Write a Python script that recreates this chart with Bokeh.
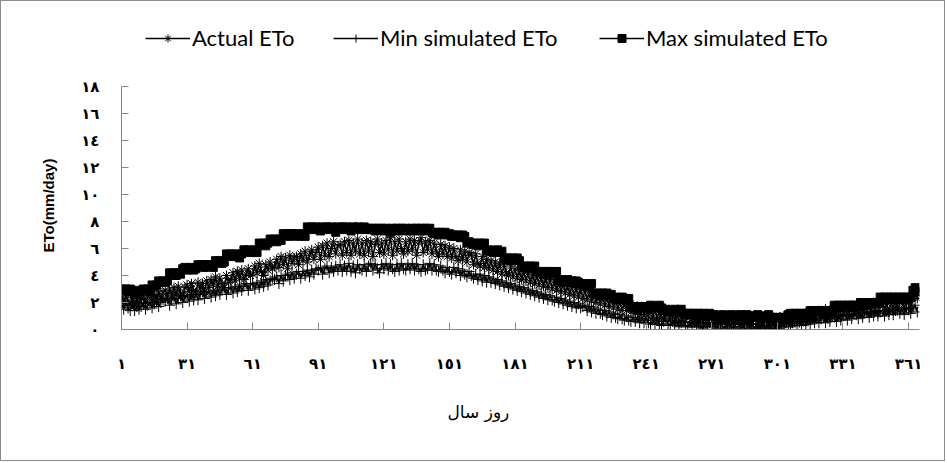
from bokeh.plotting import figure
from bokeh.models import FixedTicker, Legend, LegendItem, Range1d, Title
from bokeh.embed import file_html
from bokeh.resources import INLINE

days = list(range(1, 366))

series_names = ["Actual ETo", "Min simulated ETo", "Max simulated ETo"]

actual_eto = [
    2.5, 2.0, 2.6, 2.1, 1.8, 2.4, 1.8, 2.2, 1.9, 2.3,
    2.5, 2.0, 2.4, 2.7, 2.1, 2.6, 2.2, 2.8, 2.3, 2.7,
    2.9, 2.4, 3.0, 2.5, 3.1, 2.6, 3.2, 2.7, 2.5, 3.1,
    3.3, 2.8, 3.4, 2.9, 2.7, 3.5, 3.0, 3.4, 2.8, 3.6,
    3.1, 3.7, 3.3, 3.9, 3.2, 3.8, 3.4, 3.1, 4.0, 3.5,
    3.7, 4.2, 3.6, 4.3, 3.8, 4.4, 3.7, 4.1, 4.5, 4.0,
    4.1, 4.7, 4.2, 4.9, 4.3, 4.0, 4.8, 4.4, 5.0, 4.5,
    4.7, 5.2, 4.6, 5.4, 4.8, 5.3, 4.5, 5.5, 4.9, 5.3,
    5.4, 4.8, 5.6, 5.1, 5.8, 5.0, 5.5, 5.9, 5.2, 5.7,
    6.1, 5.2, 6.2, 5.5, 6.4, 5.4, 6.0, 6.5, 5.6, 6.2,
    6.3, 5.5, 6.5, 5.7, 6.6, 5.5, 6.4, 5.8, 6.7, 5.6,
    6.4, 5.5, 6.6, 5.8, 6.5, 5.4, 6.3, 6.7, 5.7, 6.4,
    5.6, 6.6, 5.9, 6.8, 5.5, 6.5, 5.8, 6.7, 6.0, 5.6,
    6.5, 5.8, 6.7, 5.9, 6.6, 5.5, 6.4, 6.8, 5.7, 6.5,
    5.9, 6.6, 5.6, 6.4, 5.8, 5.4, 6.3, 5.6, 6.2, 5.4,
    6.1, 5.3, 6.0, 5.4, 5.1, 5.9, 5.2, 5.8, 5.0, 5.7,
    5.5, 4.8, 5.6, 4.9, 4.7, 5.4, 4.6, 5.2, 4.5, 5.1,
    4.4, 5.0, 4.3, 4.9, 4.1, 4.8, 4.2, 4.0, 4.7, 3.9,
    4.5, 3.8, 4.4, 3.7, 4.3, 3.6, 4.2, 3.5, 4.1, 3.4,
    4.0, 3.3, 3.9, 3.2, 3.8, 3.1, 3.7, 3.0, 3.6, 2.9,
    3.5, 2.8, 3.4, 2.7, 3.3, 2.6, 3.2, 2.5, 3.1, 2.4,
    3.0, 2.3, 2.9, 2.2, 2.8, 2.1, 2.7, 2.0, 2.6, 1.9,
    2.5, 1.8, 2.4, 1.7, 2.3, 1.6, 2.2, 1.5, 2.1, 1.4,
    2.0, 1.4, 1.9, 1.3, 1.8, 1.2, 1.7, 1.1, 1.7, 1.0,
    1.6, 1.0, 1.5, 0.9, 1.5, 0.8, 1.4, 0.9, 0.8, 1.3,
    1.2, 0.7, 1.3, 0.6, 1.2, 0.7, 0.6, 1.2, 0.6, 1.1,
    1.0, 0.5, 1.1, 0.6, 0.5, 1.0, 0.4, 1.0, 0.5, 1.0,
    0.9, 0.4, 1.0, 0.5, 0.4, 1.0, 0.5, 0.4, 0.9, 1.0,
    0.4, 0.9, 1.0, 0.4, 0.9, 0.4, 1.0, 0.5, 0.4, 0.9,
    0.9, 0.4, 0.9, 0.3, 0.8, 0.9, 0.3, 0.8, 0.9, 0.3,
    0.8, 0.9, 0.4, 1.0, 0.5, 0.4, 1.0, 0.5, 1.1, 0.6,
    0.5, 1.1, 0.6, 1.2, 0.6, 0.7, 1.3, 0.7, 1.2, 1.4,
    0.8, 1.3, 1.5, 0.8, 1.4, 0.9, 1.5, 1.0, 1.6, 1.0,
    1.1, 1.7, 1.0, 1.6, 1.8, 1.1, 1.7, 1.2, 1.9, 1.3,
    1.8, 1.2, 1.9, 1.3, 2.0, 1.4, 1.2, 1.9, 2.1, 1.4,
    2.0, 1.3, 2.1, 1.5, 2.2, 1.4, 2.0, 2.3, 1.5, 2.1,
    2.2, 1.6, 2.4, 2.8, 2.3,
]

min_sim_eto = [
    1.9, 1.5, 2.0, 1.6, 1.4, 1.9, 1.4, 1.7, 1.5, 1.7,
    1.9, 1.5, 1.8, 2.0, 1.6, 1.9, 2.1, 1.7, 2.0, 2.2,
    2.1, 2.3, 1.8, 2.2, 2.4, 1.9, 2.3, 2.5, 2.0, 2.4,
    2.5, 2.1, 2.6, 2.2, 2.7, 2.2, 2.6, 2.8, 2.3, 2.7,
    2.8, 2.4, 2.9, 2.5, 3.0, 2.6, 2.9, 3.1, 2.6, 3.0,
    3.1, 2.7, 3.2, 2.8, 3.3, 2.9, 3.2, 3.4, 2.9, 3.3,
    3.4, 3.0, 3.5, 3.1, 3.6, 3.2, 3.7, 3.3, 3.6, 3.8,
    3.7, 3.9, 3.4, 4.0, 3.6, 4.0, 4.1, 3.7, 4.2, 3.8,
    4.1, 4.3, 3.8, 4.3, 4.0, 4.4, 3.9, 4.4, 4.1, 4.5,
    4.4, 4.6, 4.1, 4.5, 4.7, 4.2, 4.6, 4.3, 4.7, 4.4,
    4.8, 4.3, 4.7, 4.4, 4.9, 4.3, 4.7, 4.2, 4.8, 4.5,
    4.4, 4.8, 4.3, 4.7, 4.9, 4.4, 4.8, 4.5, 4.2, 4.8,
    4.5, 4.9, 4.4, 4.8, 4.5, 4.3, 4.8, 4.4, 4.9, 4.5,
    4.4, 4.8, 4.5, 4.9, 4.4, 4.8, 4.5, 4.3, 4.8, 4.4,
    4.5, 4.9, 4.4, 4.8, 4.4, 4.3, 4.7, 4.4, 4.2, 4.6,
    4.3, 4.1, 4.6, 4.2, 4.5, 4.0, 4.4, 4.1, 3.9, 4.3,
    4.0, 3.8, 4.1, 3.7, 4.1, 3.6, 4.0, 3.5, 3.9, 3.5,
    3.8, 3.4, 3.7, 3.3, 3.6, 3.2, 3.5, 3.1, 3.4, 3.0,
    3.3, 2.9, 3.2, 2.8, 3.1, 2.7, 3.0, 2.6, 2.9, 2.5,
    2.8, 2.4, 2.7, 2.3, 2.6, 2.2, 2.5, 2.2, 2.1, 2.4,
    2.0, 2.3, 1.9, 2.2, 1.8, 2.1, 1.7, 2.0, 1.6, 1.9,
    1.6, 1.7, 1.8, 1.4, 1.7, 1.3, 1.6, 1.2, 1.5, 1.2,
    1.1, 1.4, 1.0, 1.3, 0.9, 1.2, 0.9, 0.8, 1.1, 0.8,
    0.7, 1.0, 0.7, 0.6, 0.9, 0.6, 0.9, 0.5, 0.8, 0.5,
    0.8, 0.5, 0.4, 0.7, 0.4, 0.7, 0.4, 0.3, 0.6, 0.7,
    0.4, 0.3, 0.6, 0.3, 0.6, 0.2, 0.5, 0.6, 0.3, 0.2,
    0.5, 0.2, 0.5, 0.2, 0.5, 0.2, 0.1, 0.5, 0.2, 0.5,
    0.2, 0.5, 0.1, 0.4, 0.5, 0.2, 0.1, 0.4, 0.5, 0.2,
    0.1, 0.4, 0.5, 0.2, 0.1, 0.4, 0.5, 0.1, 0.4, 0.2,
    0.1, 0.4, 0.1, 0.5, 0.2, 0.1, 0.4, 0.1, 0.4, 0.1,
    0.4, 0.1, 0.5, 0.2, 0.5, 0.6, 0.2, 0.5, 0.6, 0.3,
    0.6, 0.3, 0.7, 0.4, 0.7, 0.4, 0.8, 0.5, 0.8, 0.5,
    0.8, 0.9, 0.5, 0.9, 0.6, 1.0, 0.9, 0.6, 1.0, 0.7,
    1.0, 1.1, 0.7, 1.1, 0.8, 1.2, 1.1, 0.8, 1.2, 0.9,
    1.2, 1.3, 0.9, 1.3, 1.0, 1.4, 1.0, 1.3, 1.4, 1.0,
    1.4, 1.1, 1.5, 1.1, 1.4, 1.6, 1.2, 1.5, 1.1, 1.6,
    1.5, 1.2, 1.6, 1.8, 1.3,
]

max_sim_eto = [
    3.0, 2.9, 3.0, 2.8, 3.0, 2.9, 2.6, 2.7, 2.6, 2.9,
    3.0, 2.9, 3.0, 2.8, 3.3, 3.2, 3.3, 3.6, 3.5, 3.6,
    3.5, 3.6, 4.2, 4.1, 4.2, 4.0, 4.2, 4.1, 4.5, 4.6,
    4.4, 4.5, 4.6, 4.4, 4.5, 4.8, 4.7, 4.8, 4.6, 4.8,
    4.7, 4.8, 4.6, 5.1, 5.0, 5.1, 4.9, 5.0, 5.6, 5.5,
    5.6, 5.4, 5.6, 5.5, 5.3, 5.6, 5.9, 5.8, 5.9, 5.7,
    5.8, 5.9, 5.7, 6.4, 6.3, 6.4, 6.2, 6.4, 6.7, 6.6,
    6.7, 6.5, 6.7, 6.6, 7.1, 7.0, 7.1, 6.9, 7.1, 7.0,
    7.1, 6.9, 7.0, 7.1, 6.9, 7.6, 7.5, 7.6, 7.4, 7.6,
    7.5, 7.3, 7.6, 7.5, 7.6, 7.4, 7.6, 7.5, 7.2, 7.6,
    7.5, 7.6, 7.4, 7.6, 7.5, 7.3, 7.6, 7.5, 7.6, 7.4,
    7.5, 7.6, 7.4, 7.5, 7.4, 7.5, 7.3, 7.5, 7.4, 7.5,
    7.3, 7.5, 7.4, 7.2, 7.5, 7.4, 7.5, 7.3, 7.5, 7.4,
    7.5, 7.3, 7.4, 7.5, 7.3, 7.5, 7.4, 7.5, 7.3, 7.5,
    7.4, 7.5, 7.2, 7.1, 7.2, 7.0, 7.2, 7.1, 7.2, 7.0,
    7.1, 6.9, 7.0, 6.9, 7.0, 6.8, 7.0, 6.9, 6.4, 6.5,
    6.4, 6.3, 6.4, 6.2, 6.4, 6.3, 6.4, 5.8, 5.9, 5.8,
    5.7, 5.8, 5.9, 5.7, 5.8, 5.3, 5.2, 5.3, 5.1, 5.3,
    5.2, 5.3, 5.1, 4.7, 4.6, 4.7, 4.5, 4.7, 4.6, 4.7,
    4.3, 4.2, 4.3, 4.1, 4.3, 4.2, 4.3, 4.1, 4.2, 4.3,
    3.6, 3.7, 3.5, 3.6, 3.7, 3.5, 3.6, 3.4, 3.6, 3.5,
    3.4, 3.3, 3.4, 3.2, 3.3, 3.4, 2.7, 2.6, 2.7, 2.5,
    2.7, 2.6, 2.7, 2.5, 2.6, 2.3, 2.4, 2.2, 2.3, 2.4,
    2.2, 2.3, 2.3, 1.7, 1.6, 1.7, 1.5, 1.7, 1.6, 1.7,
    1.6, 1.7, 1.8, 1.7, 1.6, 1.7, 1.8, 1.6, 1.4, 1.5,
    1.4, 1.3, 1.4, 1.5, 1.3, 1.4, 1.5, 1.2, 1.1, 1.2,
    1.2, 1.1, 1.2, 1.0, 1.2, 1.1, 1.2, 1.0, 1.1, 1.2,
    1.0, 1.1, 1.0, 0.9, 1.0, 1.1, 1.0, 0.9, 1.0, 1.1,
    1.0, 0.9, 1.0, 1.1, 0.9, 1.0, 1.1, 1.0, 0.9, 1.0,
    1.0, 1.1, 0.9, 1.0, 0.9, 1.0, 1.1, 0.8, 0.9, 0.8,
    0.9, 0.8, 0.9, 0.9, 0.8, 1.1, 1.2, 1.1, 1.2, 1.1,
    1.2, 1.0, 1.2, 1.1, 1.2, 1.4, 1.3, 1.4, 1.3, 1.4,
    1.3, 1.4, 1.2, 1.4, 1.3, 1.4, 1.8, 1.7, 1.8, 1.6,
    1.8, 1.7, 1.8, 1.7, 1.8, 1.6, 1.8, 1.7, 2.0, 1.9,
    2.0, 1.8, 2.0, 1.9, 2.0, 1.9, 2.0, 2.4, 2.3, 2.4,
    2.2, 2.4, 2.3, 2.4, 2.2, 2.4, 2.3, 2.4, 2.2, 2.4,
    2.3, 2.4, 2.9, 3.1, 2.8,
]

x_ticks = [1, 31, 61, 91, 121, 151, 181, 211, 241, 271, 301, 331, 361]
x_tick_labels = ["١", "٣١", "٦١", "٩١", "١٢١", "١٥١", "١٨١", "٢١١", "٢٤١", "٢٧١", "٣٠١", "٣٣١", "٣٦١"]
y_ticks = [0, 2, 4, 6, 8, 10, 12, 14, 16, 18]
y_tick_labels = ["٠", "٢", "٤", "٦", "٨", "١٠", "١٢", "١٤", "١٦", "١٨"]
y_axis_max = 18

x_title = "روز سال"
y_title = "ETo(mm/day)"

assert len(actual_eto) == len(min_sim_eto) == len(max_sim_eto) == len(days)

AXIS_GRAY = "#868686"

# frame extends above the y axis (axis bounded to 0..18) so the legend can sit inside it
TOP_PX, AXIS_TOP_PX, AXIS_BOTTOM_PX = 5, 85, 328
y_end = y_axis_max * (AXIS_BOTTOM_PX - TOP_PX) / (AXIS_BOTTOM_PX - AXIS_TOP_PX)

p = figure(width=945, height=461, x_range=Range1d(1, 366), y_range=Range1d(0, y_end),
           output_backend="svg", toolbar_location=None,
           min_border_left=120, min_border_right=27, min_border_top=TOP_PX,
           min_border_bottom=461 - AXIS_BOTTOM_PX)
p.outline_line_color = None
p.xgrid.visible = False
p.ygrid.visible = False
p.styles = {"border": "1px solid #8c8c8c"}

p.xaxis.ticker = FixedTicker(ticks=x_ticks)
p.xaxis.major_label_overrides = {t: l for t, l in zip(x_ticks, x_tick_labels)}
p.yaxis.ticker = FixedTicker(ticks=y_ticks)
p.yaxis.major_label_overrides = {t: l for t, l in zip(y_ticks, y_tick_labels)}
p.yaxis.bounds = (0, y_axis_max)

for ax in (p.xaxis[0], p.yaxis[0]):
    ax.axis_line_color = AXIS_GRAY
    ax.major_tick_line_color = AXIS_GRAY
    ax.minor_tick_line_color = None
    ax.major_tick_in = 7
    ax.major_tick_out = 0
    ax.major_label_text_font = "DejaVu Sans"
    ax.major_label_text_font_style = "bold"
    ax.major_label_text_font_size = "15px"
    ax.major_label_text_color = "#000000"

p.xaxis.major_label_standoff = 25
p.yaxis.major_label_standoff = 22

# y title placed as a left-side title so it is centred on the 0..18 axis, not the frame
p.add_layout(Title(text=y_title, align="left", offset=77, standoff=44,
                   text_font="Liberation Sans", text_font_style="bold",
                   text_font_size="15px", text_color="#000000"), "left")

LW = 1.5
# Actual
r1l = p.line(days, actual_eto, line_color="#000000", line_width=LW)
r1s = p.scatter(days, actual_eto, marker="asterisk", size=10, line_color="#000000", line_width=1)
# Min
r2l = p.line(days, min_sim_eto, line_color="#000000", line_width=LW)
r2s = p.scatter(days, min_sim_eto, marker="cross", size=11, line_color="#000000", line_width=1)
# Max
r3l = p.line(days, max_sim_eto, line_color="#000000", line_width=LW)
r3s = p.scatter(days, max_sim_eto, marker="square", size=8, line_color="#000000",
                fill_color="#000000", line_width=1)

legend_x = [24, 212, 478]
groups = [[r1l, r1s], [r2l, r2s], [r3l, r3s]]
for name, rs, lx in zip(series_names, groups, legend_x):
    leg = Legend(items=[LegendItem(label=name, renderers=rs)], location=(lx, 278),
                 orientation="horizontal", padding=0, margin=0, border_line_color=None,
                 background_fill_alpha=0, glyph_width=45, glyph_height=20, label_height=20,
                 label_standoff=2, label_text_font="Lato", label_text_font_size="22px",
                 label_text_color="#000000")
    p.add_layout(leg, "center")

p.add_layout(Title(text=x_title, align="left", offset=326, standoff=49,
                   text_font="DejaVu Sans", text_font_size="17px", text_font_style="normal",
                   text_color="#000000"), "below")

open("out.html", "w").write(file_html(p, INLINE))
